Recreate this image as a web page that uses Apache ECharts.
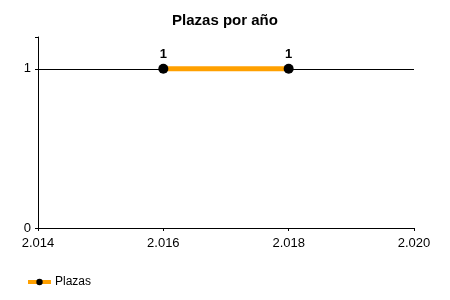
<!DOCTYPE html>
<html>
<head>
<meta charset="utf-8">
<script src="https://cdn.jsdelivr.net/npm/echarts@6/dist/echarts.min.js"></script>
<style>
  html, body { margin: 0; padding: 0; background: #fff; }
  #chart { width: 450px; height: 300px; }
</style>
</head>
<body>
<div id="chart"></div>
<script>
// datos
var years = [2016, 2018];
var plazas = [1, 1];
var xTicks = [2014, 2016, 2018, 2020];
var yTicks = [0, 1];

var chartDom = document.getElementById('chart');
var myChart = echarts.init(chartDom);
var option;

var font = 'Liberation Sans, Arial, sans-serif';

option = {
  animation: false,
  title: {
    text: 'Plazas por año',
    left: 'center',
    top: 8,
    textStyle: { fontFamily: font, fontSize: 15, fontWeight: 'bold', color: '#000' }
  },
  legend: {
    left: 21,
    top: 271,
    itemWidth: 23,
    itemHeight: 8,
    itemGap: 5,
    lineStyle: { width: 4 },
    textStyle: { fontFamily: font, fontSize: 12, color: '#000', padding: [0, 0, 0, -1] },
    data: ['Plazas']
  },
  grid: { left: 38, right: 36, top: 37, bottom: 72 },
  xAxis: {
    type: 'value',
    min: xTicks[0],
    max: xTicks[xTicks.length - 1],
    interval: 2,
    axisLine: { lineStyle: { color: '#000', width: 1 } },
    axisTick: { show: true, length: 3, lineStyle: { color: '#000' } },
    splitLine: { show: false },
    axisLabel: {
      fontFamily: font, fontSize: 13, color: '#000', margin: 9,
      formatter: function (v) {
        var s = String(v);
        return s.slice(0, 1) + '.' + s.slice(1);
      }
    }
  },
  yAxis: {
    type: 'value',
    min: yTicks[0],
    max: 1.2,
    interval: 1,
    axisLine: { show: true, lineStyle: { color: '#000', width: 1 } },
    axisTick: { show: true, length: 3, lineStyle: { color: '#000' } },
    splitLine: { show: false },
    axisLabel: {
      fontFamily: font, fontSize: 13, color: '#000', margin: 7,
      formatter: function (v) { return yTicks.indexOf(v) >= 0 ? String(v) : ''; }
    }
  },
  series: [
    {
      name: 'Plazas',
      type: 'line',
      data: years.map(function (y, i) { return [y, plazas[i]]; }),
      symbol: 'circle',
      symbolSize: 10,
      itemStyle: { color: '#000' },
      lineStyle: { color: '#ffa000', width: 5 },
      label: {
        show: true,
        position: 'top',
        distance: 3,
        fontFamily: font, fontSize: 13, fontWeight: 'bold', color: '#000'
      },
      markLine: {
        silent: true,
        symbol: 'none',
        label: { show: false },
        lineStyle: { color: '#000', width: 1, type: 'solid' },
        data: [{ yAxis: 1 }],
        z: 1
      },
      z: 3
    }
  ]
};

option && myChart.setOption(option);
</script>
</body>
</html>
